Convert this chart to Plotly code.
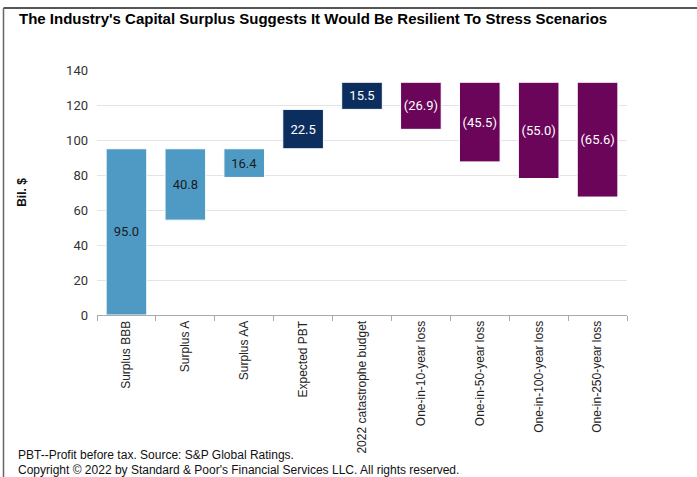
import plotly.graph_objects as go

categories = ["Surplus BBB", "Surplus A", "Surplus AA", "Expected PBT",
              "2022 catastrophe budget", "One-in-10-year loss", "One-in-50-year loss",
              "One-in-100-year loss", "One-in-250-year loss"]
values = [95.0, 40.8, 16.4, 22.5, 15.5, 26.9, 45.5, 55.0, 65.6]
bases = [0.0, 54.2, 78.6, 95.0, 117.5, 106.1, 87.5, 78.0, 67.4]
kinds = ["surplus", "surplus", "surplus", "gain", "gain", "loss", "loss", "loss", "loss"]

colors = {"surplus": "#4f9ac4", "gain": "#0b2e5f", "loss": "#6a0559"}
text_colors = {"surplus": "#1a1a1a", "gain": "white", "loss": "white"}

labels = [f"({v:.1f})" if k == "loss" else f"{v:.1f}" for v, k in zip(values, kinds)]

fig = go.Figure()
fig.add_trace(go.Bar(
    x=categories, y=values, base=bases,
    marker=dict(color=[colors[k] for k in kinds], line=dict(color="white", width=1)),
    text=labels, textposition="inside", insidetextanchor="middle",
    textfont=dict(family="Roboto, Arial, sans-serif", size=13,
                  color=[text_colors[k] for k in kinds]),
    textangle=0, width=0.69, hoverinfo="skip",
))

W, H = 697, 477
L, R, T, B = 97, 70, 70, 162
pw, ph = W - L - R, H - T - B


def px_x(x):
    return (x - L) / pw


def px_y(y):
    return (H - B - y) / ph


fig.update_layout(
    width=W, height=H,
    margin=dict(l=L, r=R, t=T, b=B),
    paper_bgcolor="white", plot_bgcolor="white",
    showlegend=False, bargap=0.32,
    font=dict(family="Arial, Liberation Sans, sans-serif", color="#222"),
    yaxis=dict(range=[0, 140], dtick=20, showgrid=True, gridcolor="#e4e4e4", gridwidth=1,
               zeroline=False, showline=False, ticks="",
               tickfont=dict(family="Roboto, Arial, sans-serif", size=13, color="#333"),
               ticklabelstandoff=8,
               title=dict(text="<b>Bil. $</b>", font=dict(size=12, color="#111"), standoff=36)),
    xaxis=dict(showline=True, linecolor="#aaa", linewidth=1, ticks="outside",
               tickson="boundaries", ticklen=5, tickcolor="#aaa", tickangle=-90,
               tickfont=dict(family="Liberation Sans Narrow, Arial Narrow, Arial, sans-serif",
                             size=12, color="#222")),
    annotations=[
        dict(text="<b>The Industry's Capital Surplus Suggests It Would Be Resilient To Stress Scenarios</b>",
             xref="paper", yref="paper", x=px_x(17), y=px_y(19), xanchor="left", yanchor="middle",
             showarrow=False, font=dict(size=15, color="#000")),
        dict(text="PBT--Profit before tax. Source: S&P Global Ratings.",
             xref="paper", yref="paper", x=px_x(16), y=px_y(455), xanchor="left", yanchor="middle",
             showarrow=False, font=dict(size=12, color="#111")),
        dict(text="Copyright © 2022 by Standard & Poor's Financial Services LLC. All rights reserved.",
             xref="paper", yref="paper", x=px_x(16), y=px_y(470), xanchor="left", yanchor="middle",
             showarrow=False, font=dict(size=12, color="#111")),
    ],
    shapes=[
        dict(type="line", xref="paper", yref="paper", x0=px_x(3.5), x1=px_x(W),
             y0=px_y(8), y1=px_y(8), line=dict(color="#555", width=2)),
        dict(type="line", xref="paper", yref="paper", x0=px_x(3.5), x1=px_x(3.5),
             y0=px_y(8), y1=px_y(H), line=dict(color="#666", width=1.5)),
    ],
)

fig.write_html("out.html", config={"displayModeBar": False},
               post_script="document.body.style.margin='0';")
